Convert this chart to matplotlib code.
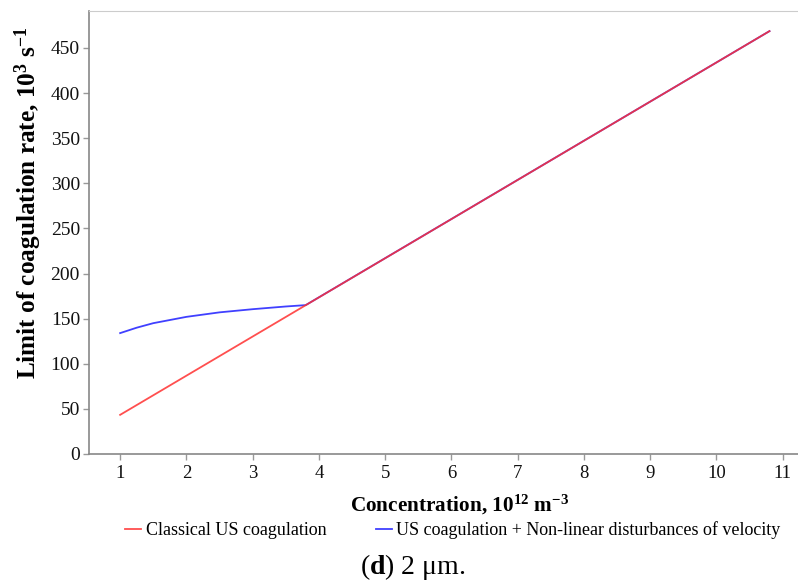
import matplotlib.pyplot as plt

classical_x = [1.0, 10.8]
classical_y = [43.4, 468.7]

nonlinear_x = [1.0, 1.25, 1.5, 2.0, 2.5, 3.0, 3.5, 3.8, 10.8]
nonlinear_y = [134.0, 140.0, 145.0, 152.0, 157.0, 160.5, 163.5, 165.0, 468.7]

x_ticks = [1, 2, 3, 4, 5, 6, 7, 8, 9, 10, 11]
y_ticks = [0, 50, 100, 150, 200, 250, 300, 350, 400, 450]

plt.rcParams['font.family'] = ['Liberation Serif', 'DejaVu Serif']
plt.rcParams['mathtext.fontset'] = 'custom'
plt.rcParams['mathtext.rm'] = 'Liberation Serif'
plt.rcParams['mathtext.it'] = 'Liberation Serif:italic'
plt.rcParams['mathtext.bf'] = 'Liberation Serif:bold'

fig = plt.figure(figsize=(7.98, 5.86), dpi=100)
ax = fig.add_axes([89 / 798, 132 / 586, 1 - 89 / 798, 443 / 586])

# blue first, red on top so the shared part looks crimson
ax.plot(nonlinear_x, nonlinear_y, color='#4040ff', lw=1.3,
        label='US coagulation + Non-linear disturbances of velocity')
ax.plot(classical_x, classical_y, color='#ff3030', lw=1.3, alpha=0.85,
        label='Classical US coagulation')

ax.set_xlim(0.53, 11.23)
ax.set_ylim(0, 491)
ax.set_xticks(x_ticks)
ax.set_yticks(y_ticks)
ax.tick_params(axis='both', color='#999999', length=4, width=1, labelcolor='#111111')
ax.tick_params(axis='y', labelsize=14, pad=2.5)
ax.tick_params(axis='x', labelsize=13.5, pad=4)

for side in ['left', 'bottom']:
    ax.spines[side].set_color('#888888')
    ax.spines[side].set_linewidth(1.2)
ax.spines['top'].set_color('#cccccc')
ax.spines['right'].set_visible(False)

ax.set_xlabel(r'Concentration, 10$^{\mathbf{12}}$ m$^{\mathbf{-3}}$', fontsize=15.3,
              fontweight='bold')
ax.xaxis.set_label_coords(0.523, -0.088)
ax.set_ylabel(r'Limit of coagulation rate, 10$^{\mathbf{3}}$ s$^{\mathbf{-1}}$', fontsize=18.2,
              fontweight='bold')
ax.yaxis.set_label_coords(-0.064, 0.567)

# legend in the same order as the picture
h, l = ax.get_legend_handles_labels()
fig.legend(h[::-1], l[::-1], loc='center left', bbox_to_anchor=(125 / 798, 1 - 530 / 586), ncol=2,
           frameon=False, fontsize=13.0, handlelength=0.87, handletextpad=0.27, columnspacing=2.75,
           borderpad=0, borderaxespad=0)

fig.text(413 / 798, 1 - 567 / 586, r'($\mathbf{d}$) 2 μm.', ha='center', va='center', fontsize=20)

plt.savefig('out.png', dpi=100)
